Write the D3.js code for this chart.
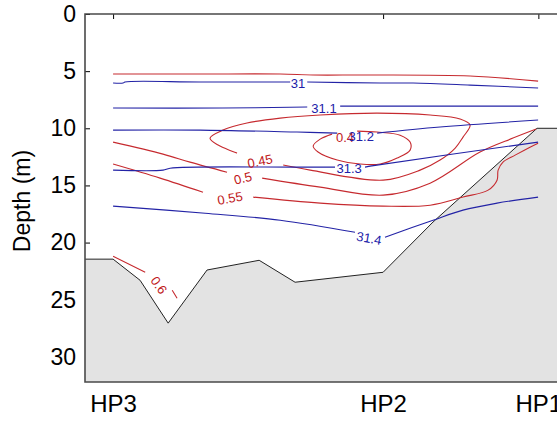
<!DOCTYPE html>
<html>
<head>
<meta charset="utf-8">
<script src="https://cdn.jsdelivr.net/npm/d3@7"></script>
<style>
  html, body { margin: 0; padding: 0; background: #fff; }
  svg { display: block; font-family: "Liberation Sans", Arial, sans-serif; }
</style>
</head>
<body>
<div id="chart"></div>
<script>
// Section across the stations: depth profile with salinity (blue) and red contours

const stationNames = ['HP3', 'HP2', 'HP1'];
const stationDist = [0, 10, 15.75];          // km along section
const depthTicks = [0, 5, 10, 15, 20, 25, 30];

// bottom profile [km, depth m]
const bottomProfile = [
  [-1.04, 21.45], [0, 21.45], [1.0, 23.3], [2.04, 27.05], [3.48, 22.4],
  [5.41, 21.55], [6.74, 23.47], [10.0, 22.6], [11.85, 18.2], [15.70, 10.0], [16.44, 10.0]
];

// salinity contours (null = gap for the label)
const sal31 = [[0, 6.04], [0.37, 6.04], [0.44, 5.95], [3.22, 5.95], [6.56, 5.95], null,
  [7.19, 5.95], [9.89, 6.04], [11.11, 6.04], [13.22, 6.22], [15.74, 6.48]];
const sal311 = [[0, 8.23], [4.07, 8.23], [7.19, 8.14], null,
  [8.41, 8.06], [9.89, 8.06], [15.74, 8.06]];
const sal312 = [[0, 10.16], [3.22, 10.16], [6.81, 10.33], [8.30, 10.42], null,
  [9.78, 10.42], [12.11, 9.89], [15.74, 9.28]];
const sal313 = [[0, 13.66], [1.85, 13.66], [2.11, 13.49], [6.81, 13.4], [8.22, 13.4], null,
  [9.33, 13.4], [9.52, 13.31], [15.74, 11.21]];
const sal314 = [[0, 16.81], [3.41, 17.43], [6.19, 18.04], [8.96, 19.09], null,
  [10.07, 19.53], [11.85, 18.04], [12.96, 17.16], [14.22, 16.55], [15.74, 16.02]];

// red contours
const redTop = [[0, 5.25], [3.22, 5.25], [6.19, 5.25], [7.41, 5.34], [9.52, 5.34],
  [13.22, 5.43], [15.74, 5.87]];
const red040 = [[9.04, 10.25], [9.78, 10.33], [10.63, 10.6], [11.0, 11.21], [11.0, 11.91],
  [10.52, 12.61], [9.89, 13.13], [9.15, 13.13], [8.30, 12.78], [7.59, 12.08],
  [7.41, 11.56], [7.67, 10.95], [8.11, 10.51]];
const red045 = [[6.30, 13.22], [7.30, 13.66], [10.0, 14.54], [11.37, 13.66], [12.11, 12.78],
  [12.67, 11.73], [12.96, 10.77], [13.22, 9.72], [12.85, 9.19], [11.74, 8.84],
  [9.78, 8.67], [7.67, 8.84], [6.19, 9.11], [4.96, 9.54], [4.07, 10.16],
  [3.59, 10.86], [3.89, 11.47], [4.59, 12.17]];
const red050 = [[0, 11.21], [1.85, 12.26], [2.85, 12.96], [4.22, 13.84], null,
  [5.52, 14.36], [7.67, 15.15], [10.0, 15.85], [11.74, 14.8], [13.59, 12.08],
  [14.81, 10.86], [15.67, 10.07]];
const red055 = [[0, 13.13], [1.74, 14.36], [3.33, 15.59], null,
  [5.19, 16.02], [7.67, 16.55], [10.0, 16.81], [11.74, 16.73], [12.96, 16.02],
  [13.89, 15.41], [14.22, 14.54], [14.26, 13.66], [14.44, 12.96], [14.89, 12.35],
  [15.44, 11.65], [15.74, 11.3]];
const red060 = [[0, 21.19], [1.19, 22.59], null, [2.19, 24.17], [2.37, 24.87]];

// contour labels [text, km, depth, rotation]
const blueLabels = [
  ['31', 6.85, 6.04, 0], ['31.1', 7.81, 8.23, 0], ['31.2', 9.19, 10.68, 0],
  ['31.3', 8.74, 13.49, 0], ['31.4', 9.48, 19.61, 10]
];
const redLabels = [
  ['0.4', 8.59, 10.77, 0], ['0.45', 5.44, 12.87, -12], ['0.5', 4.81, 14.36, -14],
  ['0.55', 4.33, 16.11, -10], ['0.6', 1.70, 23.73, 55]
];

const width = 557, height = 421;
const plot = {left: 85, top: 14, right: 557, bottom: 382};

const svg = d3.select('#chart')
  .append('svg')
  .attr('width', width)
  .attr('height', height);

const x = d3.scaleLinear()
  .domain([-1.04, 16.44])
  .range([plot.left, plot.right]);

const y = d3.scaleLinear()
  .domain([0, 32.2])
  .range([plot.top, plot.bottom]);

// Axes (drawn first so the bottom patch hides the deep ticks)
const yAxis = svg.append('g')
  .attr('transform', `translate(${plot.left},0)`)
  .call(d3.axisLeft(y).tickValues(depthTicks).tickSizeInner(-5).tickSizeOuter(0).tickPadding(9));
yAxis.selectAll('text').style('font-size', '23px').style('fill', '#000');

const topAxis = svg.append('g')
  .attr('transform', `translate(0,${plot.top})`)
  .call(d3.axisTop(x).tickValues(stationDist).tickSizeInner(-5).tickSizeOuter(0).tickFormat(''));

const xAxis = svg.append('g')
  .attr('transform', `translate(0,${plot.bottom})`)
  .call(d3.axisBottom(x).tickValues(stationDist).tickSize(0).tickPadding(13)
    .tickFormat((d, i) => stationNames[i]));
xAxis.selectAll('text').style('font-size', '24px').style('fill', '#000');

svg.selectAll('.domain').remove();
svg.selectAll('.tick line').attr('stroke', '#000');

// Bottom patch
const area = d3.area()
  .x(d => x(d[0]))
  .y0(y(32.2))
  .y1(d => y(d[1]));

svg.append('path')
  .datum(bottomProfile)
  .attr('fill', '#e3e3e3')
  .attr('d', area);

svg.append('path')
  .datum(bottomProfile)
  .attr('fill', 'none')
  .attr('stroke', '#222')
  .attr('stroke-width', 1)
  .attr('d', d3.line().x(d => x(d[0])).y(d => y(d[1])));

// Contours
const contour = d3.line()
  .defined(d => d !== null)
  .x(d => x(d[0]))
  .y(d => y(d[1]))
  .curve(d3.curveCatmullRom.alpha(0.5));

const redColor = '#c62a2f';
const blueColor = '#2323a6';

[redTop, red040, red045, red050, red055, red060].forEach(c => {
  svg.append('path')
    .datum(c)
    .attr('fill', 'none')
    .attr('stroke', redColor)
    .attr('stroke-width', 1.1)
    .attr('d', contour);
});

[sal31, sal311, sal312, sal313, sal314].forEach(c => {
  svg.append('path')
    .datum(c)
    .attr('fill', 'none')
    .attr('stroke', blueColor)
    .attr('stroke-width', 1.1)
    .attr('d', contour);
});

function drawLabels(labels, color) {
  svg.selectAll(null)
    .data(labels)
    .enter()
    .append('text')
    .attr('transform', d => `translate(${x(d[1])},${y(d[2])}) rotate(${d[3]})`)
    .attr('text-anchor', 'middle')
    .attr('dy', '0.36em')
    .style('font-size', '13px')
    .style('fill', color)
    .text(d => d[0]);
}
drawLabels(redLabels, '#c01820');
drawLabels(blueLabels, '#2020a8');

// Axes box (left, top, bottom)
const frame = d3.path();
frame.moveTo(x.range()[1], y.range()[0]);
frame.lineTo(x.range()[0], y.range()[0]);
frame.lineTo(x.range()[0], y.range()[1]);
frame.lineTo(x.range()[1], y.range()[1]);
svg.append('path')
  .attr('d', frame.toString())
  .attr('fill', 'none')
  .attr('stroke', '#4a4a4a')
  .attr('stroke-width', 1.6);

// Axis title
svg.append('text')
  .attr('transform', `translate(29.5,${(y.range()[0] + y.range()[1]) / 2 + 3}) rotate(-90)`)
  .attr('text-anchor', 'middle')
  .style('font-size', '23px')
  .style('fill', '#000')
  .text('Depth (m)');
</script>
</body>
</html>
